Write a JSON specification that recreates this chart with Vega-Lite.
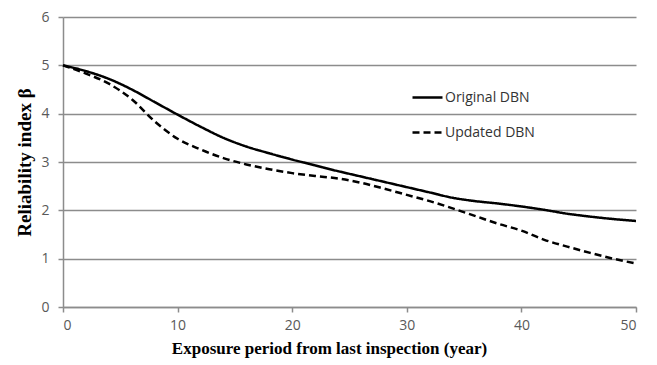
{
  "$schema": "https://vega.github.io/schema/vega-lite/v6.json",
  "autosize": {"type": "none"},
  "padding": {"left": 63, "top": 17, "right": 21, "bottom": 58},
  "width": 573,
  "height": 290,
  "background": "white",
  "config": {
    "view": {"stroke": null},
    "axis": {
      "labelFont": "Open Sans",
      "labelFontSize": 14,
      "labelColor": "#595959",
      "titleFont": "Liberation Serif",
      "titleFontSize": 17,
      "titleFontWeight": "bold",
      "titleColor": "black",
      "domainColor": "#8c8c8c",
      "tickColor": "#8c8c8c",
      "gridColor": "#8c8c8c",
      "domainWidth": 1.5,
      "tickWidth": 1.5,
      "gridWidth": 1.5
    }
  },
  "data": {
    "values": [
      {"year": 0, "beta": 5.0, "series": "Original DBN"},
      {"year": 2, "beta": 4.88, "series": "Original DBN"},
      {"year": 4, "beta": 4.72, "series": "Original DBN"},
      {"year": 6, "beta": 4.5, "series": "Original DBN"},
      {"year": 8, "beta": 4.24, "series": "Original DBN"},
      {"year": 10, "beta": 3.98, "series": "Original DBN"},
      {"year": 12, "beta": 3.73, "series": "Original DBN"},
      {"year": 14, "beta": 3.5, "series": "Original DBN"},
      {"year": 16, "beta": 3.32, "series": "Original DBN"},
      {"year": 18, "beta": 3.18, "series": "Original DBN"},
      {"year": 20, "beta": 3.05, "series": "Original DBN"},
      {"year": 22, "beta": 2.93, "series": "Original DBN"},
      {"year": 24, "beta": 2.81, "series": "Original DBN"},
      {"year": 26, "beta": 2.7, "series": "Original DBN"},
      {"year": 28, "beta": 2.59, "series": "Original DBN"},
      {"year": 30, "beta": 2.48, "series": "Original DBN"},
      {"year": 32, "beta": 2.37, "series": "Original DBN"},
      {"year": 34, "beta": 2.26, "series": "Original DBN"},
      {"year": 36, "beta": 2.19, "series": "Original DBN"},
      {"year": 38, "beta": 2.14, "series": "Original DBN"},
      {"year": 40, "beta": 2.08, "series": "Original DBN"},
      {"year": 42, "beta": 2.01, "series": "Original DBN"},
      {"year": 44, "beta": 1.93, "series": "Original DBN"},
      {"year": 46, "beta": 1.87, "series": "Original DBN"},
      {"year": 48, "beta": 1.82, "series": "Original DBN"},
      {"year": 50, "beta": 1.78, "series": "Original DBN"},
      {"year": 0, "beta": 5.0, "series": "Updated DBN"},
      {"year": 2, "beta": 4.83, "series": "Updated DBN"},
      {"year": 4, "beta": 4.62, "series": "Updated DBN"},
      {"year": 6, "beta": 4.3, "series": "Updated DBN"},
      {"year": 8, "beta": 3.84, "series": "Updated DBN"},
      {"year": 10, "beta": 3.48, "series": "Updated DBN"},
      {"year": 12, "beta": 3.26, "series": "Updated DBN"},
      {"year": 14, "beta": 3.08, "series": "Updated DBN"},
      {"year": 16, "beta": 2.95, "series": "Updated DBN"},
      {"year": 18, "beta": 2.85, "series": "Updated DBN"},
      {"year": 20, "beta": 2.77, "series": "Updated DBN"},
      {"year": 22, "beta": 2.71, "series": "Updated DBN"},
      {"year": 24, "beta": 2.66, "series": "Updated DBN"},
      {"year": 26, "beta": 2.57, "series": "Updated DBN"},
      {"year": 28, "beta": 2.45, "series": "Updated DBN"},
      {"year": 30, "beta": 2.32, "series": "Updated DBN"},
      {"year": 32, "beta": 2.19, "series": "Updated DBN"},
      {"year": 34, "beta": 2.04, "series": "Updated DBN"},
      {"year": 36, "beta": 1.88, "series": "Updated DBN"},
      {"year": 38, "beta": 1.72, "series": "Updated DBN"},
      {"year": 40, "beta": 1.58, "series": "Updated DBN"},
      {"year": 42, "beta": 1.39, "series": "Updated DBN"},
      {"year": 44, "beta": 1.25, "series": "Updated DBN"},
      {"year": 46, "beta": 1.12, "series": "Updated DBN"},
      {"year": 48, "beta": 1.0, "series": "Updated DBN"},
      {"year": 50, "beta": 0.9, "series": "Updated DBN"}
    ]
  },
  "mark": {"type": "line", "interpolate": "monotone", "strokeWidth": 2.5},
  "encoding": {
    "x": {
      "field": "year", "type": "quantitative",
      "scale": {"domain": [0, 50], "nice": false},
      "axis": {"values": [0, 10, 20, 30, 40, 50], "grid": false, "tickSize": 5, "labelPadding": 6, "title": "Exposure period from last inspection (year)", "titlePadding": 8, "titleX": 266}
    },
    "y": {
      "field": "beta", "type": "quantitative",
      "scale": {"domain": [0, 6], "nice": false},
      "axis": {"values": [0, 1, 2, 3, 4, 5, 6], "grid": true, "tickSize": 5, "labelPadding": 9, "title": "Reliability index β", "titleFontSize": 19, "titlePadding": 6}
    },
    "color": {
      "field": "series", "type": "nominal",
      "scale": {"range": ["black", "black"]},
      "legend": null
    },
    "strokeDash": {
      "field": "series", "type": "nominal",
      "scale": {"domain": ["Original DBN", "Updated DBN"], "range": [[1, 0], [7, 4]]},
      "legend": {
        "title": null,
        "orient": "none",
        "legendX": 348,
        "legendY": 64,
        "symbolType": "stroke",
        "symbolSize": 900,
        "symbolStrokeWidth": 2.5,
        "symbolStrokeColor": "black",
        "rowPadding": 11,
        "labelFont": "Open Sans",
        "labelFontSize": 14,
        "labelColor": "#333333",
        "labelOffset": 1
      }
    }
  }
}
